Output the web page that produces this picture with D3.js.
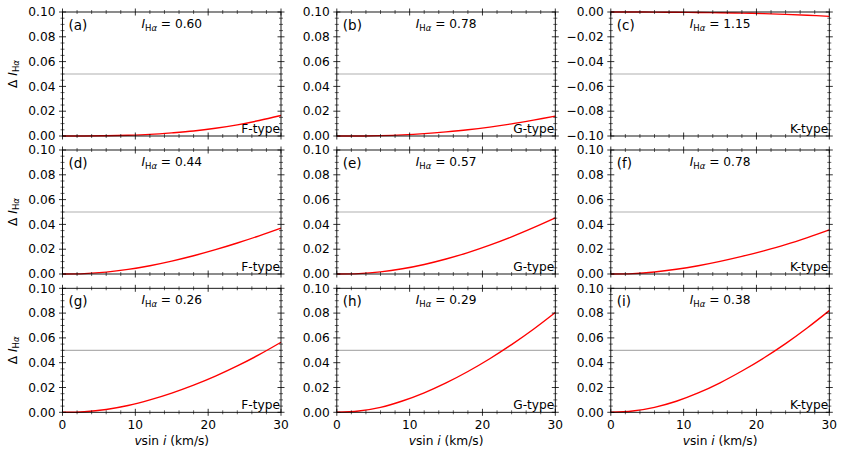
<!DOCTYPE html>
<html><head><meta charset="utf-8">
<script src="https://cdn.jsdelivr.net/npm/d3@7/dist/d3.min.js"></script>
<style>
body{margin:0;background:#fff;}
text{font-family:"DejaVu Sans",sans-serif;}
</style></head>
<body><svg id="c" width="846" height="458"></svg>
<script>
const vsini = [0, 3, 6, 9, 12, 15, 18, 21, 24, 27, 30];
const panelLetters = ["a","b","c","d","e","f","g","h","i"];
const intensities = ["0.60","0.78","1.15","0.44","0.57","0.78","0.26","0.29","0.38"];
const starTypes = ["F-type","G-type","K-type","F-type","G-type","K-type","F-type","G-type","K-type"];
const dI_a = [0, 0, 0.0002, 0.0006, 0.0013, 0.0025, 0.0040, 0.0062, 0.0090, 0.0125, 0.0165];
const dI_b = [0, 0, 0.0003, 0.0009, 0.0019, 0.0033, 0.0050, 0.0072, 0.0098, 0.0128, 0.0160];
const dI_c = [0, 0, -0.0001, -0.0002, -0.0004, -0.0006, -0.0009, -0.0013, -0.0019, -0.0026, -0.0035];
const dI_d = [0, 0.0003, 0.0015, 0.0037, 0.0067, 0.0104, 0.0147, 0.0196, 0.0250, 0.0308, 0.0370];
const dI_e = [0, 0.0003, 0.0017, 0.0042, 0.0077, 0.0121, 0.0173, 0.0233, 0.0300, 0.0374, 0.0453];
const dI_f = [0, 0.0003, 0.0016, 0.0038, 0.0067, 0.0102, 0.0142, 0.0187, 0.0237, 0.0294, 0.0356];
const dI_g = [0, 0.0005, 0.0023, 0.0055, 0.0100, 0.0155, 0.0219, 0.0292, 0.0374, 0.0465, 0.0565];
const dI_h = [0, 0.0010, 0.0040, 0.0091, 0.0157, 0.0237, 0.0329, 0.0432, 0.0546, 0.0670, 0.0805];
const dI_i = [0, 0.0010, 0.0040, 0.0089, 0.0156, 0.0238, 0.0333, 0.0438, 0.0554, 0.0682, 0.0820];
const series = [dI_a, dI_b, dI_c, dI_d, dI_e, dI_f, dI_g, dI_h, dI_i];
const yDomains = [[0,0.1],[0,0.1],[-0.1,0],[0,0.1],[0,0.1],[0,0.1],[0,0.1],[0,0.1],[0,0.1]];
const thresholds = [0.05,0.05,-0.05,0.05,0.05,0.05,0.05,0.05,0.05];
const xTicks = [0, 10, 20, 30];

const svg = d3.select("#c");
const colX = [62.5, 336.8, 610.8], pw = 218.5;
const rowY = [12, 150, 288.3], ph = 124;

function drawAxisTicks(g, scale, orient, majors, minors, showLabels, fmt, x0, y0) {
  majors.forEach(v => {
    const p = scale(v);
    if (orient === "left" || orient === "right") {
      g.append("line").attr("x1", x0-3.5).attr("x2", x0+3.5).attr("y1", p).attr("y2", p)
        .attr("stroke","#000").attr("stroke-width",0.8);
      if (showLabels && orient === "left") {
        g.append("text").attr("x", x0-7).attr("y", p).attr("dy","0.35em")
          .attr("text-anchor","end").attr("font-size",12.2).text(fmt(v));
      }
    } else {
      g.append("line").attr("y1", y0-3.5).attr("y2", y0+3.5).attr("x1", p).attr("x2", p)
        .attr("stroke","#000").attr("stroke-width",0.8);
      if (showLabels && orient === "bottom") {
        g.append("text").attr("x", p).attr("y", y0+17)
          .attr("text-anchor","middle").attr("font-size",12.2).text(fmt(v));
      }
    }
  });
  minors.forEach(v => {
    const p = scale(v);
    if (orient === "left" || orient === "right") {
      g.append("line").attr("x1", x0-2).attr("x2", x0+2).attr("y1", p).attr("y2", p)
        .attr("stroke","#000").attr("stroke-width",0.6);
    } else {
      g.append("line").attr("y1", y0-2).attr("y2", y0+2).attr("x1", p).attr("x2", p)
        .attr("stroke","#000").attr("stroke-width",0.6);
    }
  });
}

for (let k = 0; k < 9; k++) {
  const r = Math.floor(k/3), c = k % 3;
  const L = colX[c], T = rowY[r], R = L + pw, B = T + ph;
  const x = d3.scaleLinear().domain([0,30]).range([L, R]);
  const y = d3.scaleLinear().domain(yDomains[k]).range([B, T]);
  const g = svg.append("g");

  g.append("line").attr("x1", L).attr("x2", R)
    .attr("y1", y(thresholds[k])).attr("y2", y(thresholds[k]))
    .attr("stroke","#b0b0b0").attr("stroke-width",1.2);

  const line = d3.line().x((d,i)=>x(vsini[i])).y(d=>y(d)).curve(d3.curveCatmullRom.alpha(0.5));
  g.append("path").datum(series[k]).attr("d", line)
    .attr("fill","none").attr("stroke","#ff0000").attr("stroke-width",1.4);

  g.append("rect").attr("x",L).attr("y",T).attr("width",pw).attr("height",ph)
    .attr("fill","none").attr("stroke","#000").attr("stroke-width",0.9);

  const y0d = yDomains[k][0];
  const yMaj = d3.range(0,6).map(i => +(y0d + i*0.02).toFixed(3));
  const yMin = d3.range(0,21).map(i => +(y0d + i*0.005).toFixed(4)).filter(v => !yMaj.some(m => Math.abs(m-v)<1e-6));
  const xMin = d3.range(0,31,2).filter(v => v%10 !== 0);
  const yfmt = v => (v < 0 ? "\u2212" : "") + Math.abs(v).toFixed(2);
  drawAxisTicks(g, y, "left", yMaj, yMin, true, yfmt, L, 0);
  drawAxisTicks(g, y, "right", yMaj, yMin, false, yfmt, R, 0);
  drawAxisTicks(g, x, "bottom", xTicks, xMin, r === 2, d3.format("d"), 0, B);
  drawAxisTicks(g, x, "top", xTicks, xMin, false, d3.format("d"), 0, T);

  g.append("text").attr("x", L+6).attr("y", T+18).attr("font-size",13.5)
    .text("(" + panelLetters[k] + ")");
  const t = g.append("text").attr("x", (L+R)/2).attr("y", T+16).attr("text-anchor","middle")
    .attr("font-size",12.2);
  t.append("tspan").attr("font-style","italic").text("I");
  t.append("tspan").attr("font-size",8.5).attr("dy",2.5).text("H");
  t.append("tspan").attr("font-size",8.5).attr("font-style","italic").text("α");
  t.append("tspan").attr("dy",-2.5).text(" = " + intensities[k]);
  g.append("text").attr("x", R-1).attr("y", B-3).attr("text-anchor","end")
    .attr("font-size",12.2).text(starTypes[k]);

  if (c === 0) {
    const yl = svg.append("text").attr("transform", `translate(${L-46},${(T+B)/2}) rotate(-90)`)
      .attr("text-anchor","middle").attr("font-size",12.2);
    yl.append("tspan").text("\u0394 ");
    yl.append("tspan").attr("font-style","italic").text("I");
    yl.append("tspan").attr("font-size",8.5).attr("dy",2.5).text("H");
    yl.append("tspan").attr("font-size",8.5).attr("font-style","italic").text("α");
  }
  if (r === 2) {
    const xl = svg.append("text").attr("x",(L+R)/2).attr("y", B+33).attr("text-anchor","middle")
      .attr("font-size",12.2);
    xl.append("tspan").attr("font-style","italic").text("v");
    xl.append("tspan").text("sin ");
    xl.append("tspan").attr("font-style","italic").text("i");
    xl.append("tspan").text(" (km/s)");
  }
}
</script></body></html>
